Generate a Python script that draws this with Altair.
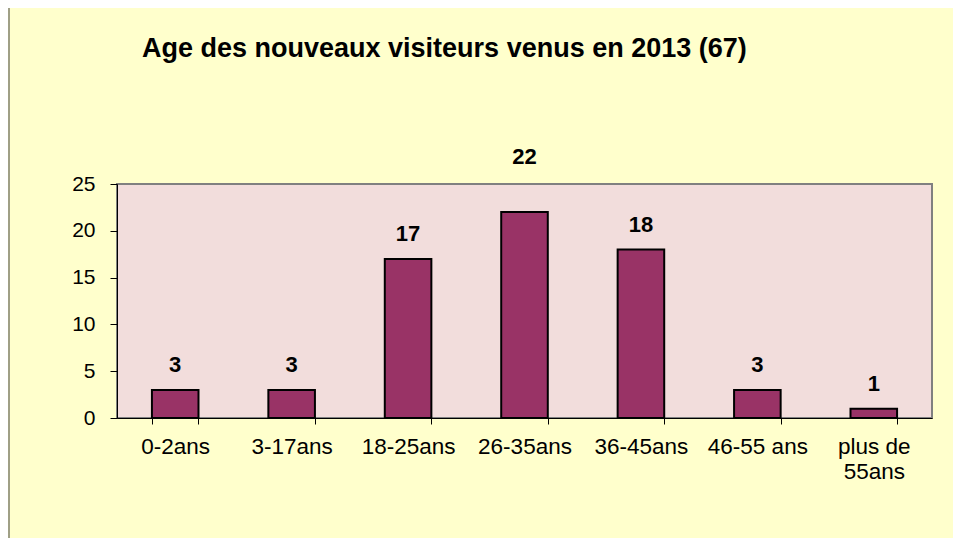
import altair as alt
import pandas as pd

categories = ["0-2ans", "3-17ans", "18-25ans", "26-35ans", "36-45ans", "46-55 ans", "plus de\n55ans"]
values = [3, 3, 17, 22, 18, 3, 1]
y_ticks = [0, 5, 10, 15, 20, 25]
title_text = "Age des nouveaux visiteurs venus en 2013 (67)"

df = pd.DataFrame({"age": categories, "n": values})

FONT = "Liberation Sans"

x_enc = alt.X(
    "age:N",
    sort=categories,
    scale=alt.Scale(paddingInner=0.6, paddingOuter=0.3),
    axis=alt.Axis(
        title=None, labelAngle=0, labelExpr="split(datum.label, '\\n')",
        tickBand="extent", tickSize=6, labelPadding=11,
        labelFont=FONT, labelFontSize=22.5, labelLineHeight=25, labelColor="black",
        domainColor="black", tickColor="black", domainWidth=1, tickWidth=1,
    ),
)
y_enc = alt.Y(
    "n:Q",
    scale=alt.Scale(domain=[0, 25], nice=False),
    axis=alt.Axis(
        title=None, values=y_ticks, grid=False, tickSize=7, labelPadding=15,
        labelFont=FONT, labelFontSize=21, labelColor="black",
        domainColor="black", tickColor="black", domainWidth=1, tickWidth=1,
    ),
)

base = alt.Chart(df)

bars = base.mark_bar(color="#993366", stroke="black", strokeWidth=2).encode(x=x_enc, y=y_enc)

labels = base.mark_text(
    font=FONT, fontSize=22, fontWeight="bold", color="black", baseline="middle", dy=-25
).transform_joinaggregate(m="max(n)").transform_filter("datum.n < datum.m").encode(
    x=alt.X("age:N", sort=categories), y="n:Q", text="n:Q"
)

top_label = base.mark_text(
    font=FONT, fontSize=22, fontWeight="bold", color="black", baseline="middle", dy=-55
).transform_joinaggregate(m="max(n)").transform_filter("datum.n == datum.m").encode(
    x=alt.X("age:N", sort=categories), y="n:Q", text="n:Q"
)

title = alt.Chart(pd.DataFrame({"t": [title_text]})).mark_text(
    font=FONT, fontSize=27, fontWeight="bold", color="black", align="left", baseline="alphabetic"
).encode(x=alt.value(25), y=alt.value(-127), text="t:N")

border = alt.Chart(pd.DataFrame({"k": [0]})).mark_rule(color="#404040", strokeWidth=1).encode(
    x=alt.value(-108), y=alt.value(-176), y2=alt.value(354)
)

chart = alt.layer(bars, labels, top_label, title, border).properties(
    width=815,
    height=234,
    padding={"left": 109, "top": 176, "right": 21, "bottom": 120},
    autosize=alt.AutoSizeParams(type="none"),
    background="#FFFFCC",
).configure_view(fill="#F2DDDC", stroke="#808080", strokeWidth=2)

chart.save("out.html", embed_options={"renderer": "svg", "actions": False})
